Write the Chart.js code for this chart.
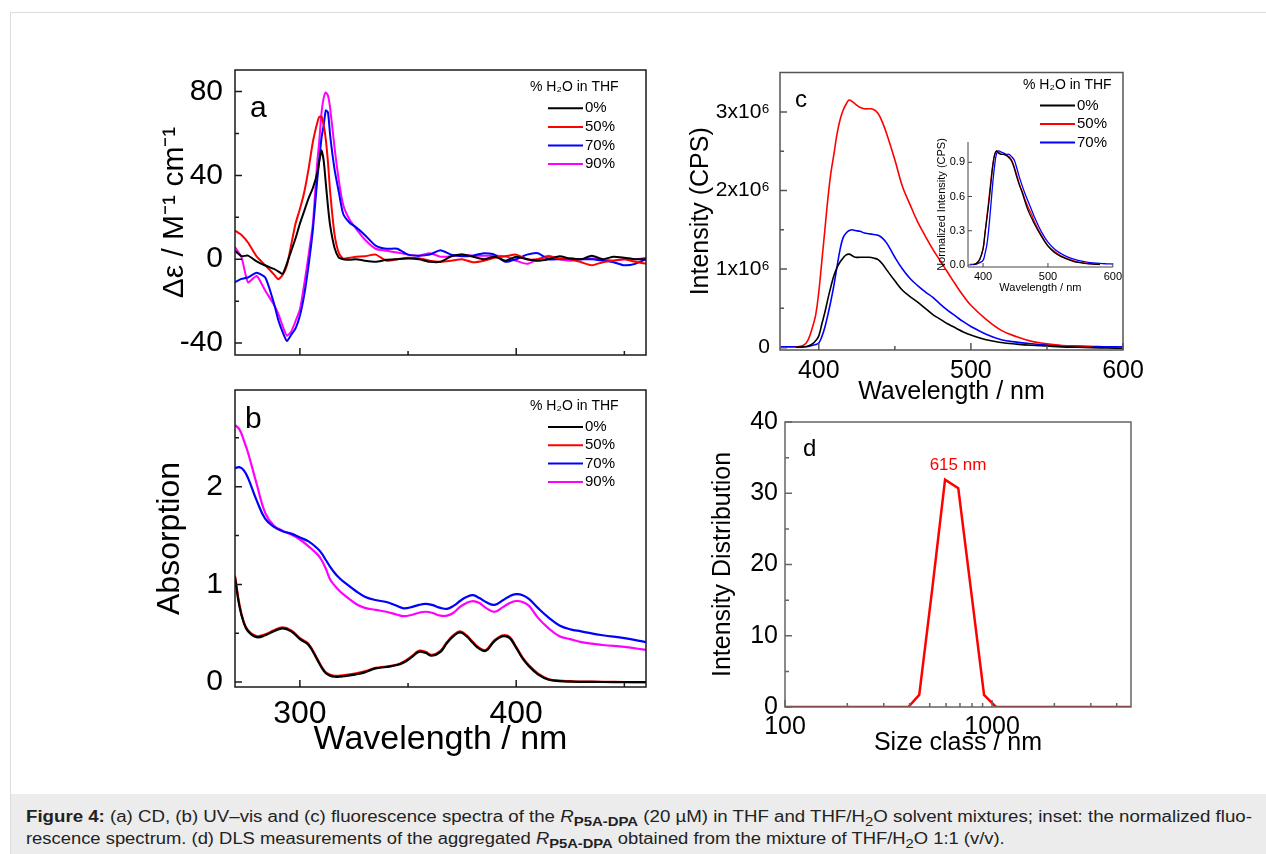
<!DOCTYPE html>
<html>
<head>
<meta charset="utf-8">
<title>Figure 4</title>
<script src="https://cdn.jsdelivr.net/npm/chart.js@4.4.1/dist/chart.umd.min.js"></script>
<style>
  body { margin: 0; background: #fff; font-family: 'Liberation Sans', Arial, sans-serif; }
  #page { position: relative; width: 1266px; height: 854px; overflow: hidden; }
  #frame { position: absolute; left: 10px; top: 12px; width: 1300px; height: 900px;
           border-left: 1px solid #dcdcdc; border-top: 1px solid #dcdcdc; }
  canvas { position: absolute; }
  #caption { position: absolute; left: 11px; top: 794px; width: 1255px; height: 60px;
             background: #ececec; color: #222; font-size: 16px; line-height: 22px; }
  #caption .line { position: absolute; left: 15px; display: inline-block; white-space: nowrap; transform-origin: 0 50%; }
  #caption .l1 { top: 12px; }
  #caption .l2 { top: 34px; }
  #caption sub { font-size: 0.8em; vertical-align: baseline; position: relative; top: 0.3em; line-height: 0; }
</style>
</head>
<body>
<div id="page">
  <div id="frame"></div>
  <canvas id="chartA"></canvas>
  <canvas id="chartB"></canvas>
  <canvas id="chartC"></canvas>
  <canvas id="chartInset"></canvas>
  <canvas id="chartD"></canvas>
  <div id="caption">
    <div class="line l1"><b>Figure 4:</b> (a) CD, (b) UV–vis and (c) fluorescence spectra of the <i>R</i><sub><b>P5A-DPA</b></sub> (20 µM) in THF and THF/H<sub>2</sub>O solvent mixtures; inset: the normalized fluo-</div>
    <div class="line l2">rescence spectrum. (d) DLS measurements of the aggregated <i>R</i><sub><b>P5A-DPA</b></sub> obtained from the mixture of THF/H<sub>2</sub>O 1:1 (v/v).</div>
  </div>
</div>
<script>
// ---- data ----
const waterLabels = ['0%', '50%', '70%', '90%'];

// (a) CD spectra, Δε in M^-1 cm^-1
const aWavelength = [270, 273, 276, 280, 284, 288, 290, 292, 294, 296, 298, 300, 302, 304, 306, 308, 309, 310, 311, 312,
  313, 314, 316, 318, 320, 323, 326, 330, 335, 340, 345, 350, 355, 360, 365, 370, 375, 380, 385, 390,
  395, 400, 405, 410, 415, 420, 425, 430, 435, 440, 445, 450, 455, 460];
const aCD0 = [4, 1.5, 1.7, -1, -3, -4.6, -5.8, -7, -2, 4, 10, 17, 23, 29, 34, 41, 47, 52, 47, 36,
  25, 16, 5.5, 0.8, 0, -0.3, 0, -0.7, -1.2, -0.3, 0, 0.3, 0, -1.2, -1.2, 1.4, 2.2, 1.2, 0, 1.2,
  -0.7, 1.2, 0, -0.7, 0, 1.4, 0.3, 0, 1.7, 0, 1.2, 0.7, 0, 0];
const aCD50 = [13.7, 11.6, 8, 1.4, -2.9, -7.2, -9.5, -7.5, -3, 7, 17, 24, 32, 43, 56, 65, 68, 68, 64, 57,
  46, 32, 12, 3, 0.3, 0.7, 1.2, 1.4, 2.2, -0.7, 0, 0.7, 0.5, -0.7, -1.2, -0.7, 0, -1.4, -0.7, 0.7,
  1.4, 2.2, 0, 0, 1.2, 0.3, 0, -1.4, -2.9, -1.4, -0.7, 0, -1.2, -2.2];
const aCD70 = [-10.9, -9.4, -8.7, -6.5, -8.7, -21, -29, -34.7, -39, -36, -33, -27, -17, -3, 14, 37.6, 47.8, 58, 64, 71,
  70, 59, 43, 32, 21.7, 17.4, 15.2, 11.6, 6.5, 5, 5, 2.2, 1.7, 2.2, 4.3, 2.2, 1.4, 1.7, 2.9, 2.2,
  -1.2, 0, 2.2, 2.9, 0, 0, 0.3, 0, 0, -0.7, -1.4, -2.9, -2.2, 0];
const aCD90 = [5.8, 1, -11, -8, -15, -21.7, -26, -31.8, -36.5, -34.5, -29.5, -24, -12, 2, 17, 46, 57, 70, 77, 79.6,
  78, 72, 53.5, 37.6, 26, 18.8, 14.5, 9.4, 5, 4, 3.2, 2.2, 1.7, 2.9, 1.2, 1.4, 2.2, 1.7, 1.7, 1.7,
  1.4, -0.7, -2.2, 0, 1.7, 0, -0.7, 0, 0.3, 0, -0.7, 0, 0, 0.7];

// (b) UV-vis absorption
const bWavelength = [270, 272, 274, 276, 280, 284, 288, 292, 296, 300, 304, 308, 310, 312, 314, 316, 318, 320, 326, 330,
  335, 340, 345, 348, 352, 355, 358, 361, 365, 368, 371, 374, 377, 380, 383, 386, 390, 394, 397, 400,
  403, 406, 410, 415, 420, 425, 430, 440, 450, 460];
const bAbs0 = [1.07, 0.78, 0.61, 0.52, 0.46, 0.48, 0.52, 0.55, 0.52, 0.44, 0.38, 0.23, 0.15, 0.09, 0.065, 0.055, 0.055, 0.06, 0.08, 0.1,
  0.14, 0.155, 0.175, 0.2, 0.26, 0.31, 0.3, 0.27, 0.31, 0.4, 0.47, 0.51, 0.47, 0.4, 0.34, 0.32, 0.42, 0.47, 0.45, 0.35,
  0.24, 0.16, 0.08, 0.025, 0.01, 0.005, 0.003, 0.001, 0, 0];
const bAbs50 = [1.09, 0.8, 0.62, 0.53, 0.47, 0.49, 0.53, 0.56, 0.53, 0.45, 0.39, 0.24, 0.16, 0.1, 0.075, 0.065, 0.065, 0.07, 0.09, 0.11,
  0.146, 0.16, 0.18, 0.21, 0.27, 0.32, 0.31, 0.28, 0.32, 0.41, 0.48, 0.52, 0.48, 0.41, 0.35, 0.33, 0.43, 0.48, 0.46, 0.36,
  0.25, 0.17, 0.09, 0.03, 0.015, 0.01, 0.006, 0.003, 0.001, 0];
const bAbs70 = [2.19, 2.2, 2.17, 2.09, 1.86, 1.67, 1.59, 1.545, 1.52, 1.48, 1.44, 1.37, 1.32, 1.25, 1.18, 1.12, 1.07, 1.03, 0.93, 0.875,
  0.84, 0.82, 0.78, 0.755, 0.77, 0.79, 0.8, 0.79, 0.76, 0.75, 0.78, 0.83, 0.87, 0.89, 0.86, 0.82, 0.79, 0.84, 0.88, 0.9,
  0.89, 0.85, 0.76, 0.66, 0.58, 0.54, 0.52, 0.48, 0.45, 0.41];
const bAbs90 = [2.63, 2.59, 2.48, 2.35, 2.03, 1.73, 1.6, 1.55, 1.51, 1.46, 1.39, 1.31, 1.25, 1.16, 1.05, 0.99, 0.94, 0.9, 0.8, 0.76,
  0.74, 0.72, 0.69, 0.675, 0.69, 0.71, 0.72, 0.71, 0.68, 0.68, 0.71, 0.77, 0.81, 0.83, 0.81, 0.76, 0.72, 0.77, 0.81, 0.83,
  0.82, 0.78, 0.66, 0.55, 0.47, 0.44, 0.41, 0.38, 0.36, 0.33];

// (c) fluorescence, intensity in units of 10^6 CPS
const cWavelength = [375, 380, 385, 390, 393, 396, 398, 400, 402, 404, 406, 408, 410, 412, 414, 416, 418, 420, 422, 424,
  427, 430, 433, 436, 439, 442, 445, 450, 455, 460, 465, 470, 475, 480, 485, 490, 495, 500, 510, 520,
  530, 540, 550, 560, 570, 580, 590, 600];
const cInt0 = [null, null, 0.005, 0.01, 0.02, 0.05, 0.09, 0.15, 0.3, 0.45, 0.62, 0.78, 0.92, 1.02, 1.09, 1.14, 1.18, 1.19, 1.17, 1.15,
  1.15, 1.15, 1.15, 1.14, 1.12, 1.06, 0.98, 0.85, 0.73, 0.65, 0.58, 0.5, 0.42, 0.36, 0.3, 0.25, 0.2, 0.16, 0.1, 0.065,
  0.045, 0.03, 0.02, 0.01, 0.005, 0, -0.005, -0.01];
const cInt50 = [null, null, 0.01, 0.03, 0.1, 0.27, 0.42, 0.71, 1.1, 1.5, 1.9, 2.23, 2.47, 2.72, 2.9, 3.02, 3.1, 3.15, 3.13, 3.1,
  3.06, 3.04, 3.04, 3.03, 2.98, 2.86, 2.7, 2.39, 2.05, 1.82, 1.6, 1.42, 1.25, 1.1, 0.95, 0.8, 0.66, 0.54, 0.36, 0.22,
  0.14, 0.08, 0.05, 0.028, 0.018, 0.01, null, null];
const cInt70 = [0.01, 0.01, 0.01, 0.012, 0.015, 0.03, 0.04, 0.06, 0.14, 0.26, 0.42, 0.6, 0.8, 1.03, 1.25, 1.4, 1.46, 1.49, 1.5, 1.49,
  1.48, 1.46, 1.45, 1.44, 1.43, 1.39, 1.32, 1.15, 1.0, 0.88, 0.79, 0.71, 0.64, 0.55, 0.47, 0.4, 0.33, 0.27, 0.17, 0.1,
  0.07, 0.05, 0.035, 0.025, 0.02, 0.015, 0.01, 0.01];

// (c) inset, normalized intensity
const insetWavelength = [380, 385, 390, 395, 400, 403, 406, 409, 412, 415, 418, 421, 424, 428, 432, 436, 440, 444, 448, 452,
  456, 460, 465, 470, 475, 480, 490, 500, 510, 520, 530, 540, 550, 560, 570, 580, 590, 600];
const insetNorm0 = [null, 0, 0.015, 0.05, 0.14, 0.28, 0.41, 0.55, 0.71, 0.87, 0.97, 1.0, 0.98, 0.97, 0.97, 0.96, 0.94, 0.91, 0.85, 0.77,
  0.7, 0.64, 0.55, 0.47, 0.41, 0.35, 0.25, 0.165, 0.11, 0.075, 0.05, 0.03, 0.02, 0.012, 0.008, 0.005, null, null];
const insetNorm50 = [null, 0.005, 0.015, 0.05, 0.14, 0.28, 0.43, 0.58, 0.74, 0.88, 0.97, 1.0, 0.99, 0.97, 0.97, 0.96, 0.95, 0.92, 0.86, 0.79,
  0.71, 0.65, 0.57, 0.5, 0.44, 0.37, 0.26, 0.17, 0.12, 0.08, 0.055, 0.035, 0.022, 0.013, 0.008, 0.004, null, null];
const insetNorm70 = [0.005, 0.005, 0.008, 0.02, 0.04, 0.1, 0.18, 0.33, 0.52, 0.72, 0.88, 0.98, 1.0, 0.99, 0.98, 0.97, 0.97, 0.95, 0.92, 0.85,
  0.77, 0.7, 0.62, 0.55, 0.48, 0.41, 0.29, 0.2, 0.14, 0.1, 0.07, 0.05, 0.035, 0.025, 0.018, 0.013, 0.01, 0.008];

// (d) DLS size distribution
const dSize = [100, 394, 445, 514, 593, 687, 793, 915, 1045, 4690];
const dIntensity = [0, 0, 1.7, 16.5, 31.9, 30.7, 16.2, 1.7, 0, 0];

// tick labels and minor ticks
const abTicksX = [300, 400];
const abMinorX = [350, 450];
const aTicksY = [-40, 0, 40, 80];
const aMinorY = [-20, 20, 60];
const bTicksY = [0, 1, 2];
const bMinorY = [0.5, 1.5, 2.5];
const cTicksX = [400, 500, 600];
const cMinorX = [450, 550];
const cTicksY = [0, 1, 2, 3];
const cMinorY = [0.5, 1.5, 2.5];
const insetTicksX = [400, 500, 600];
const insetTicksY = [0, 0.3, 0.6, 0.9];
const dTicksX = [100, 1000];
const dMinorX = [200, 300, 400, 500, 600, 700, 800, 900, 2000, 3000, 4000];
const dTicksY = [0, 10, 20, 30, 40];
const dMinorY = [5, 15, 25, 35];

const seriesColors = ['#000000', '#ff0000', '#0000ff', '#ff00ff'];
const FONT = "'Liberation Sans', Arial, sans-serif";

Chart.defaults.font.family = FONT;
Chart.defaults.color = '#000';

function pairs(xs, ys) {
  return xs.map((x, i) => ({ x: x, y: ys[i] }));
}

function series(label, color, xs, ys, width, tension) {
  return {
    label: label,
    data: pairs(xs, ys),
    borderColor: color,
    backgroundColor: color,
    borderWidth: width,
    pointRadius: 0,
    tension: tension,
    fill: false
  };
}

function axis(o) {
  return {
    type: o.type || 'linear',
    min: o.min,
    max: o.max,
    afterBuildTicks: s => { s.ticks = o.ticks.map(v => ({ value: v })); },
    afterFit: s => {
      if (o.width != null) s.width = o.width;
      if (o.height != null) s.height = o.height;
    },
    grid: { display: false, drawTicks: false },
    border: { display: false },
    ticks: {
      display: o.labels !== false,
      autoSkip: false,
      maxRotation: 0,
      padding: o.pad || 0,
      font: { size: o.fontSize || 12 },
      color: '#000',
      callback: o.format || (v => v)
    },
    title: o.title
      ? { display: true, text: o.title, color: '#000', font: { size: o.titleSize }, padding: o.titlePad }
      : { display: false }
  };
}

// frame, inward ticks, panel letters and legend
function decor(cfg) {
  return {
    id: 'decor',
    afterDatasetsDraw(chart) {
      const ctx = chart.ctx;
      const a = chart.chartArea;
      const sx = chart.scales.x;
      const sy = chart.scales.y;
      ctx.save();
      ctx.strokeStyle = cfg.frameColor;
      ctx.lineWidth = cfg.frameWidth;
      ctx.beginPath();
      if (cfg.box) {
        ctx.rect(a.left, a.top, a.right - a.left, a.bottom - a.top);
      } else {
        ctx.moveTo(a.left, a.top);
        ctx.lineTo(a.left, a.bottom);
        ctx.lineTo(a.right, a.bottom);
      }
      ctx.stroke();

      ctx.beginPath();
      const tickX = (vals, len) => vals.forEach(v => {
        const p = sx.getPixelForValue(v);
        ctx.moveTo(p, a.bottom);
        ctx.lineTo(p, a.bottom - len);
      });
      const tickY = (vals, len) => vals.forEach(v => {
        const p = sy.getPixelForValue(v);
        ctx.moveTo(a.left, p);
        ctx.lineTo(a.left + len, p);
      });
      tickX(cfg.xMajor || [], cfg.major);
      tickX(cfg.xMinor || [], cfg.minor);
      tickY(cfg.yMajor || [], cfg.major);
      tickY(cfg.yMinor || [], cfg.minor);
      ctx.stroke();

      ctx.textBaseline = 'middle';
      (cfg.texts || []).forEach(t => {
        ctx.font = t.font;
        ctx.fillStyle = t.color || '#000';
        ctx.textAlign = t.align || 'left';
        ctx.fillText(t.text, a.left + t.dx, a.top + t.dy);
      });

      const L = cfg.legend;
      if (L) {
        ctx.textAlign = 'left';
        ctx.fillStyle = '#000';
        ctx.font = '14px ' + FONT;
        ctx.fillText('% H₂O in THF', a.left + L.titleDx, a.top + L.titleDy);
        ctx.font = '15px ' + FONT;
        ctx.lineWidth = 2;
        chart.data.datasets.forEach((ds, i) => {
          const y = a.top + L.rowDy + i * L.rowStep;
          ctx.strokeStyle = ds.borderColor;
          ctx.beginPath();
          ctx.moveTo(a.left + L.lineDx, y);
          ctx.lineTo(a.left + L.lineDx + 35, y);
          ctx.stroke();
          ctx.fillText(ds.label, a.left + L.lineDx + 37, y);
        });
      }
      ctx.restore();
    }
  };
}

function makeChart(id, box, datasets, scales, decorCfg) {
  const canvas = document.getElementById(id);
  canvas.width = box.w;
  canvas.height = box.h;
  canvas.style.left = box.x + 'px';
  canvas.style.top = box.y + 'px';
  return new Chart(canvas, {
    type: 'line',
    data: { datasets: datasets },
    options: {
      responsive: false,
      animation: false,
      layout: { padding: box.pad },
      plugins: { legend: { display: false }, tooltip: { enabled: false } },
      scales: scales
    },
    plugins: [decor(decorCfg)]
  });
}

// (a) CD
makeChart('chartA', { x: 150, y: 40, w: 520, h: 345, pad: { left: 0, top: 20, right: 24, bottom: 0 } },
  [
    series(waterLabels[0], seriesColors[0], aWavelength, aCD0, 2, 0.2),
    series(waterLabels[1], seriesColors[1], aWavelength, aCD50, 2, 0.2),
    series(waterLabels[2], seriesColors[2], aWavelength, aCD70, 2, 0.2),
    series(waterLabels[3], seriesColors[3], aWavelength, aCD90, 2, 0.2)
  ],
  {
    x: axis({ min: 270, max: 460, ticks: abTicksX, labels: false, height: 11 }),
    y: axis({ min: -45.7, max: 90.3, ticks: aTicksY, width: 85, pad: 12, fontSize: 30,
      title: 'Δε / M⁻¹ cm⁻¹', titleSize: 30, titlePad: { top: 7 } })
  },
  { box: true, frameColor: '#1a1a1a', frameWidth: 1.5, major: 7, minor: 4,
    xMajor: abTicksX, xMinor: abMinorX, yMajor: aTicksY, yMinor: aMinorY,
    texts: [{ text: 'a', dx: 15, dy: 39, font: '30px ' + FONT }],
    legend: { titleDx: 295, titleDy: 17.5, lineDx: 313, rowDy: 38.3, rowStep: 18.6 } });

// (b) UV-vis
makeChart('chartB', { x: 150, y: 360, w: 520, h: 400, pad: { left: 0, top: 14, right: 24, bottom: 0 } },
  [
    series(waterLabels[0], seriesColors[0], bWavelength, bAbs0, 2.2, 0.4),
    series(waterLabels[1], seriesColors[1], bWavelength, bAbs50, 2.2, 0.4),
    series(waterLabels[2], seriesColors[2], bWavelength, bAbs70, 2.2, 0.4),
    series(waterLabels[3], seriesColors[3], bWavelength, bAbs90, 2.2, 0.4)
  ],
  {
    x: axis({ min: 270, max: 460, ticks: abTicksX, height: 73, pad: 8, fontSize: 32,
      title: 'Wavelength / nm', titleSize: 34, titlePad: { bottom: 0 } }),
    y: axis({ min: -0.05, max: 2.99, ticks: bTicksY, width: 85, pad: 12, fontSize: 30,
      title: 'Absorption', titleSize: 32, titlePad: { top: 1 } })
  },
  { box: true, frameColor: '#1a1a1a', frameWidth: 1.5, major: 7, minor: 4,
    xMajor: abTicksX, xMinor: abMinorX, yMajor: bTicksY, yMinor: bMinorY,
    texts: [{ text: 'b', dx: 10, dy: 29.5, font: '30px ' + FONT }],
    legend: { titleDx: 295, titleDy: 16, lineDx: 313, rowDy: 37, rowStep: 18.3 } });

// (c) fluorescence
makeChart('chartC', { x: 680, y: 50, w: 470, h: 360, pad: { left: 0, top: 13, right: 27, bottom: 0 } },
  [
    series(waterLabels[0], seriesColors[0], cWavelength, cInt0, 1.6, 0.4),
    series(waterLabels[1], seriesColors[1], cWavelength, cInt50, 1.6, 0.4),
    series(waterLabels[2], seriesColors[2], cWavelength, cInt70, 1.6, 0.4)
  ],
  {
    x: axis({ min: 374.5, max: 600, ticks: cTicksX, height: 60, pad: 6, fontSize: 25,
      title: 'Wavelength / nm', titleSize: 25, titlePad: { bottom: 3 } }),
    y: axis({ min: -0.03, max: 3.5, ticks: cTicksY, width: 100, pad: 10, fontSize: 21,
      format: v => (v === 0 ? '0' : v + 'x10⁶'),
      title: 'Intensity (CPS)', titleSize: 25, titlePad: { top: 6 } })
  },
  { box: true, frameColor: '#555', frameWidth: 1.5, major: 7, minor: 4,
    xMajor: cTicksX, xMinor: cMinorX, yMajor: cTicksY, yMinor: cMinorY,
    texts: [{ text: 'c', dx: 15, dy: 27.5, font: '24px ' + FONT }],
    legend: { titleDx: 243, titleDy: 13, lineDx: 260, rowDy: 33, rowStep: 18.5 } });

// (c) inset
makeChart('chartInset', { x: 915, y: 125, w: 210, h: 175, pad: { left: 0, top: 17, right: 10, bottom: 0 } },
  [
    series(waterLabels[0], seriesColors[0], insetWavelength, insetNorm0, 1.3, 0.4),
    series(waterLabels[1], seriesColors[1], insetWavelength, insetNorm50, 1.3, 0.4),
    series(waterLabels[2], seriesColors[2], insetWavelength, insetNorm70, 1.3, 0.4)
  ],
  {
    x: axis({ min: 376.8, max: 600, ticks: insetTicksX, height: 33, pad: 3, fontSize: 11,
      title: 'Wavelength / nm', titleSize: 11, titlePad: { bottom: 5 } }),
    y: axis({ min: -0.018, max: 1.078, ticks: insetTicksY, width: 53, pad: 3, fontSize: 11,
      format: v => v.toFixed(1),
      title: 'Normalized Intensity (CPS)', titleSize: 11, titlePad: { top: 20 } })
  },
  { box: false, frameColor: '#444', frameWidth: 1, major: 4, minor: 2,
    xMajor: insetTicksX, yMajor: insetTicksY });

// (d) DLS
makeChart('chartD', { x: 690, y: 400, w: 460, h: 365, pad: { left: 0, top: 19, right: 19, bottom: 0 } },
  [
    series('DLS', '#ff0000', dSize, dIntensity, 2.5, 0)
  ],
  {
    x: axis({ type: 'logarithmic', min: 100, max: 4690, ticks: dTicksX, height: 58, pad: 5, fontSize: 25,
      title: 'Size class / nm', titleSize: 25, titlePad: { bottom: 7 } }),
    y: axis({ min: 0, max: 40, ticks: dTicksY, width: 95, pad: 7, fontSize: 25,
      title: 'Intensity Distribution', titleSize: 25, titlePad: { top: 18 } })
  },
  { box: true, frameColor: '#666', frameWidth: 1.5, major: 7, minor: 4,
    xMajor: dTicksX, xMinor: dMinorX, yMajor: dTicksY, yMinor: dMinorY,
    texts: [
      { text: 'd', dx: 18, dy: 27.5, font: '24px ' + FONT },
      { text: '615 nm', dx: 173, dy: 43, font: '17px ' + FONT, color: '#ff0000', align: 'center' }
    ] });

// caption lines: the original typesetting is a little wider than Liberation Sans
const captionEnds = [1226, 979];
document.querySelectorAll('#caption .line').forEach((el, i) => {
  el.style.transform = 'scaleX(' + (captionEnds[i] / el.offsetWidth) + ')';
});
</script>
</body>
</html>
